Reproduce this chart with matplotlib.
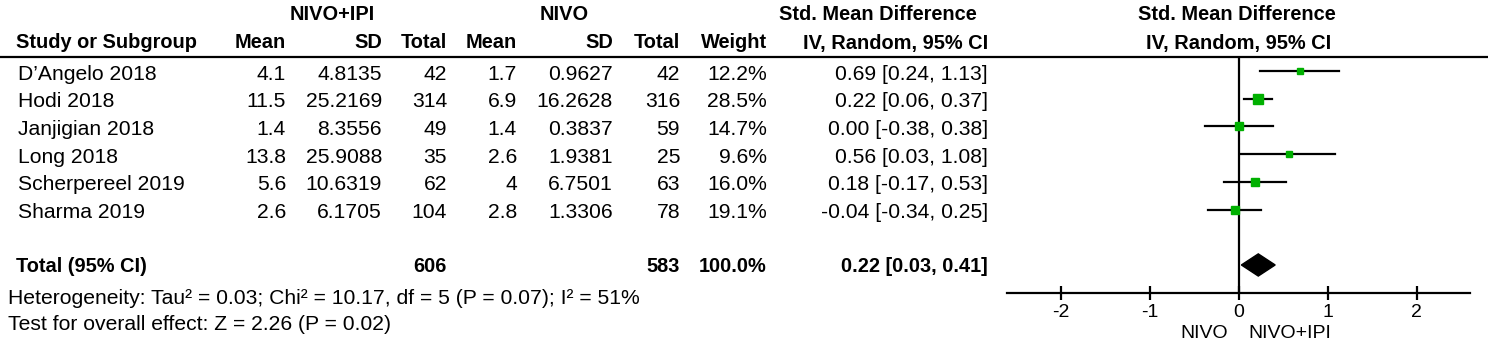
import matplotlib.pyplot as plt
import numpy as np

plt.rcParams['font.family'] = ['Liberation Sans', 'DejaVu Sans']

# data
studies = ["D\u2019Angelo 2018", "Hodi 2018", "Janjigian 2018", "Long 2018",
           "Scherpereel 2019", "Sharma 2019"]
ni_mean = [4.1, 11.5, 1.4, 13.8, 5.6, 2.6]
ni_sd = [4.8135, 25.2169, 8.3556, 25.9088, 10.6319, 6.1705]
ni_n = [42, 314, 49, 35, 62, 104]
n_mean = [1.7, 6.9, 1.4, 2.6, 4, 2.8]
n_sd = [0.9627, 16.2628, 0.3837, 1.9381, 6.7501, 1.3306]
n_n = [42, 316, 59, 25, 63, 78]
weight = [12.2, 28.5, 14.7, 9.6, 16.0, 19.1]
smd = [0.69, 0.22, 0.00, 0.56, 0.18, -0.04]
ci_lo = [0.24, 0.06, -0.38, 0.03, -0.17, -0.34]
ci_hi = [1.13, 0.37, 0.38, 1.08, 0.53, 0.25]
total_ni, total_n = 606, 583
tot_smd, tot_lo, tot_hi = 0.22, 0.03, 0.41
het_txt = "Heterogeneity: Tau\u00b2 = 0.03; Chi\u00b2 = 10.17, df = 5 (P = 0.07); I\u00b2 = 51%"
eff_txt = "Test for overall effect: Z = 2.26 (P = 0.02)"
xticks = [-2, -1, 0, 1, 2]

green = '#00b000'
fs = 15.2   # regular rows
fb = 14.4   # bold headers
ft = 14     # axis text

fig = plt.figure(figsize=(14.88, 3.51), dpi=100)
ax = fig.add_axes([0, 0, 1, 1])
ax.set_xlim(0, 1488)
ax.set_ylim(351, 0)
ax.axis('off')

# headers
ax.text(332, 15, "NIVO+IPI", ha='center', va='center', fontsize=fb, fontweight='bold')
ax.text(564, 15, "NIVO", ha='center', va='center', fontsize=fb, fontweight='bold')
ax.text(878, 15, "Std. Mean Difference", ha='center', va='center', fontsize=fb, fontweight='bold')
ax.text(1237, 15, "Std. Mean Difference", ha='center', va='center', fontsize=fb, fontweight='bold')
hy = 43
ax.text(16, hy, "Study or Subgroup", ha='left', va='center', fontsize=fb, fontweight='bold')
cols = [(286, "Mean"), (382, "SD"), (447, "Total"), (517, "Mean"), (613, "SD"),
        (680, "Total"), (767, "Weight"), (988, "IV, Random, 95% CI")]
for x, t in cols:
    ax.text(x, hy, t, ha='right', va='center', fontsize=fb, fontweight='bold')
ax.text(1239, hy, "IV, Random, 95% CI", ha='center', va='center', fontsize=fb, fontweight='bold')
ax.plot([0, 1488], [57, 57], color='black', lw=1.6)

# study rows
for i in range(len(studies)):
    y = 74 + 27.7 * i
    ax.text(18, y, studies[i], ha='left', va='center', fontsize=fs)
    vals = ['{:g}'.format(ni_mean[i]), '{:g}'.format(ni_sd[i]), str(ni_n[i]),
            '{:g}'.format(n_mean[i]), '{:g}'.format(n_sd[i]), str(n_n[i]),
            '{:.1f}%'.format(weight[i]),
            '{:.2f} [{:.2f}, {:.2f}]'.format(smd[i], ci_lo[i], ci_hi[i])]
    for (x, _), v in zip(cols, vals):
        ax.text(x, y, v, ha='right', va='center', fontsize=fs)

ty = 267
ax.text(16, ty, "Total (95% CI)", ha='left', va='center', fontsize=fb, fontweight='bold')
ax.text(447, ty, str(total_ni), ha='right', va='center', fontsize=fb, fontweight='bold')
ax.text(680, ty, str(total_n), ha='right', va='center', fontsize=fb, fontweight='bold')
ax.text(767, ty, "100.0%", ha='right', va='center', fontsize=fb, fontweight='bold')
ax.text(988, ty, '{:.2f} [{:.2f}, {:.2f}]'.format(tot_smd, tot_lo, tot_hi),
        ha='right', va='center', fontsize=fb, fontweight='bold')
ax.text(8, 298, het_txt, ha='left', va='center', fontsize=fs)
ax.text(8, 325, eff_txt, ha='left', va='center', fontsize=fs)

# forest panel
L, R, T, B = 1007.3, 1470.1, 57, 292.7
fx = fig.add_axes([L / 1488, (351 - B) / 351, (R - L) / 1488, (B - T) / 351])
fx.patch.set_alpha(0)
fx.set_xlim(-2.6, 2.6)
fx.set_ylim(8, -0.5)
for s in ['top', 'left', 'right']:
    fx.spines[s].set_visible(False)
fx.spines['bottom'].set_linewidth(1.6)
fx.set_yticks([])
fx.set_xticks(xticks)
fx.set_xticklabels([str(t) for t in xticks])
fx.tick_params(axis='x', direction='inout', length=10, width=1.6, labelsize=ft, pad=3)
fx.axvline(0, color='black', lw=1.6)

for i in range(len(studies)):
    fx.plot([ci_lo[i], ci_hi[i]], [i, i], color='black', lw=1.6)
    fx.plot(smd[i], i, marker='s', ms=1.35 * np.sqrt(weight[i]), color=green,
            mec=green, ls='none')
fx.fill([tot_lo, tot_smd, tot_hi, tot_smd], [7, 6.6, 7, 7.4], color='black')

ax.text(1228, 333, "NIVO", ha='right', va='center', fontsize=ft)
ax.text(1248, 333, "NIVO+IPI", ha='left', va='center', fontsize=ft)

fig.savefig('out.png', dpi=100)
